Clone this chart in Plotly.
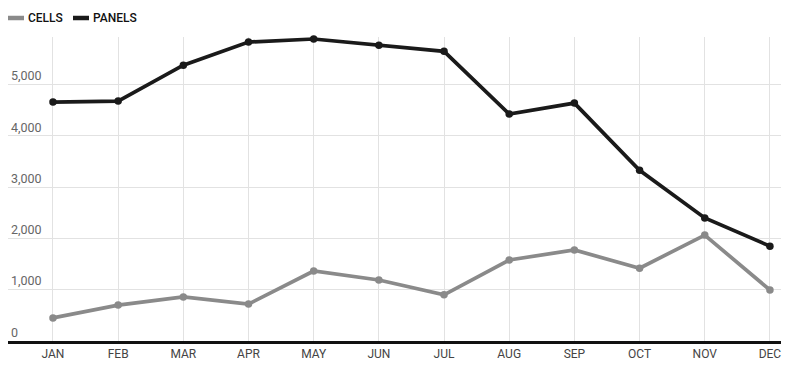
import plotly.graph_objects as go

months = ["JAN", "FEB", "MAR", "APR", "MAY", "JUN", "JUL", "AUG", "SEP", "OCT", "NOV", "DEC"]
cells = [450, 700, 860, 720, 1365, 1190, 900, 1580, 1775, 1420, 2065, 995]
panels = [4660, 4680, 5380, 5830, 5890, 5770, 5650, 4425, 4640, 3330, 2400, 1850]
y_ticks = [0, 1000, 2000, 3000, 4000, 5000]
y_tick_text = ["0", "1,000", "2,000", "3,000", "4,000", "5,000"]

CELL_COLOR = "#8a8a8a"
PANEL_COLOR = "#1a1a1a"

fig = go.Figure()
fig.add_trace(go.Scatter(x=months, y=cells, name="CELLS", mode="lines+markers",
                         line=dict(color=CELL_COLOR, width=3.7),
                         marker=dict(size=7.5, color=CELL_COLOR), cliponaxis=False))
fig.add_trace(go.Scatter(x=months, y=panels, name="PANELS", mode="lines+markers",
                         line=dict(color=PANEL_COLOR, width=3.7),
                         marker=dict(size=7.5, color=PANEL_COLOR), cliponaxis=False))

# custom legend (plot area spans 773 x 304 px, bottom at page y=341)
PH = 304
legend_items = [("CELLS", CELL_COLOR, 8, 26), ("PANELS", PANEL_COLOR, 73, 91)]
for name, color, x0, tx in legend_items:
    fig.add_shape(type="line", xref="paper", yref="paper",
                  x0=(x0 - 8) / 773, x1=(x0 + 16 - 8) / 773,
                  y0=(341 - 18) / PH, y1=(341 - 18) / PH,
                  line=dict(color=color, width=4.5))
    fig.add_annotation(text=name, xref="paper", yref="paper",
                       x=(tx - 8) / 773, y=(341 - 18) / PH,
                       xanchor="left", yanchor="middle", showarrow=False,
                       font=dict(family="Roboto", size=12, color="#111111", weight=500))

fig.update_layout(
    width=784, height=359,
    margin=dict(l=0, r=11, t=29, b=26),
    paper_bgcolor="white", plot_bgcolor="white",
    showlegend=False,
    font=dict(family="Roboto", color="#555555"),
    xaxis=dict(range=[-0.69, 11.17], showgrid=True, gridcolor="#e2e2e2", gridwidth=1,
               showline=True, linecolor="#111111", linewidth=2.5,
               ticks="", tickfont=dict(size=12, color="#444444"), zeroline=False),
    yaxis=dict(range=[0, 5929], tickvals=y_ticks, ticktext=y_tick_text,
               showgrid=True, gridcolor="#e2e2e2", gridwidth=1, zeroline=False,
               ticklabelposition="inside top", ticks="",
               tickfont=dict(size=12.5, color="#666666")),
)

fig.write_html("out.html")
